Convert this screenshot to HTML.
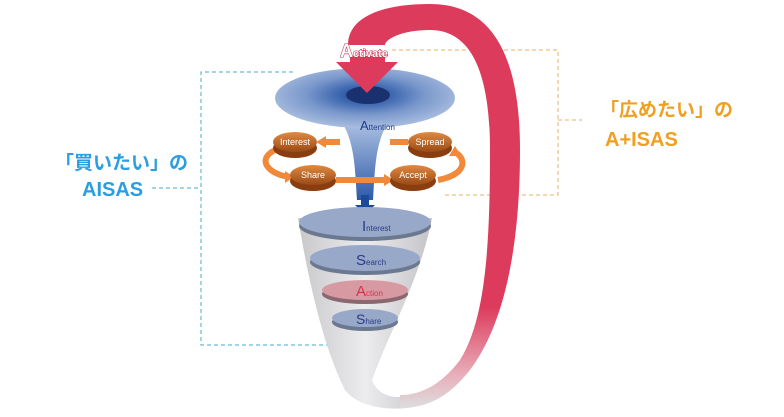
<!DOCTYPE html>
<html><head><meta charset="utf-8"><style>
body{margin:0;width:784px;height:412px;background:#fff;overflow:hidden;font-family:"Liberation Sans","Noto Sans CJK JP",sans-serif}
</style></head><body>
<svg width="784" height="412" viewBox="0 0 784 412" xmlns="http://www.w3.org/2000/svg">
<defs>
<radialGradient id="dish" cx="0.5" cy="0.45" r="0.6">
<stop offset="0" stop-color="#1c3f86"/><stop offset="0.25" stop-color="#3e68b0"/><stop offset="0.55" stop-color="#7a98cc"/><stop offset="1" stop-color="#b4c6e4"/></radialGradient>
<linearGradient id="neck" x1="0" y1="0" x2="0" y2="1"><stop offset="0" stop-color="#b0c4e4"/><stop offset="1" stop-color="#2e5aa8"/></linearGradient>
<linearGradient id="cone" x1="0" y1="0" x2="1" y2="0"><stop offset="0" stop-color="#c8c8cc"/><stop offset="0.5" stop-color="#ececee"/><stop offset="1" stop-color="#c4c4c8"/></linearGradient>
<linearGradient id="red" x1="0" y1="0" x2="0" y2="1"><stop offset="0" stop-color="#dd3b5c"/><stop offset="0.75" stop-color="#dd3b5c"/><stop offset="0.92" stop-color="#e8b0bc"/><stop offset="1" stop-color="#dddddd"/></linearGradient>
<linearGradient id="disc" x1="0" y1="0" x2="0" y2="1"><stop offset="0" stop-color="#e08a40"/><stop offset="1" stop-color="#9a4a16"/></linearGradient>
</defs>
<path d="M293 72 H201 V345 H330 M152 188 H201" fill="none" stroke="#4aa8d0" stroke-width="1" stroke-dasharray="4,3"/>
<path d="M392 50 H558 V195 H443 M558 120 H582" fill="none" stroke="#e8b060" stroke-width="1" stroke-dasharray="4,3"/>
<path d="M298 218 C310 290 325 350 345 390 C360 410 400 412 420 405 L410 395 C395 400 378 396 372 380 C390 330 420 280 432 218 Z" fill="url(#cone)"/>
<path d="M348 45 C348 18 380 4 430 4 C495 4 520 60 520 150 C520 260 500 330 470 370 C450 395 430 408 400 408 L400 395 C425 395 445 380 460 360 C485 320 490 250 490 150 C490 70 470 30 430 30 C400 30 385 40 385 45 Z" fill="url(#red)"/>
<path d="M340 120 C355 140 355 170 357 200 H373 C375 170 375 140 390 120 Z" fill="url(#neck)"/>
<ellipse cx="365" cy="98" rx="90" ry="30" fill="url(#dish)"/>
<ellipse cx="368" cy="95" rx="22" ry="9" fill="#1a3170"/>
<polygon points="350,56 385,56 385,62 398,62 367,93 336,62 350,62" fill="#dd3b5c"/>
<text x="340" y="57" font-size="11" fill="#fff" stroke="#c83050" stroke-width="1.1" paint-order="stroke" font-weight="bold"><tspan font-size="18">A</tspan>ctivate</text>
<text x="360" y="130" font-size="13" fill="#1e3a88">A<tspan font-size="8">ttention</tspan></text>
<polygon points="361,195 369,195 369,205 375,205 365,215 355,205 361,205" fill="#1a4a9a"/>
<g fill="none" stroke="#f08a3a" stroke-width="6">
<path d="M340 142 H322"/><path d="M408 142 H390"/>
<path d="M275 150 C255 160 270 175 290 177"/>
<path d="M336 180 H388"/>
<path d="M438 180 C465 175 468 160 455 152"/>
</g>
<g fill="#f08a3a"><polygon points="316,142 326,136 326,148"/><polygon points="394,180 384,174 384,186"/><polygon points="294,177 285,171 285,183"/><polygon points="455,146 449,156 461,156"/></g>
<g font-size="9" fill="#fff" text-anchor="middle">
<g><ellipse cx="295" cy="148" rx="22" ry="10" fill="#8a3e10"/><ellipse cx="295" cy="142" rx="22" ry="10" fill="url(#disc)"/><text x="295" y="145">Interest</text></g>
<g><ellipse cx="430" cy="148" rx="22" ry="10" fill="#8a3e10"/><ellipse cx="430" cy="142" rx="22" ry="10" fill="url(#disc)"/><text x="430" y="145">Spread</text></g>
<g><ellipse cx="313" cy="181" rx="23" ry="10" fill="#8a3e10"/><ellipse cx="313" cy="175" rx="23" ry="10" fill="url(#disc)"/><text x="313" y="178">Share</text></g>
<g><ellipse cx="413" cy="181" rx="23" ry="10" fill="#8a3e10"/><ellipse cx="413" cy="175" rx="23" ry="10" fill="url(#disc)"/><text x="413" y="178">Accept</text></g>
</g>
<ellipse cx="365" cy="226" rx="66" ry="15" fill="#6a7890"/><ellipse cx="365" cy="222" rx="66" ry="15" fill="#98a8c8"/>
<ellipse cx="365" cy="262" rx="55" ry="13" fill="#6a7890"/><ellipse cx="365" cy="258" rx="55" ry="13" fill="#98a8c8"/>
<ellipse cx="365" cy="294" rx="43" ry="10" fill="#8a6870"/><ellipse cx="365" cy="290" rx="43" ry="10" fill="#d89aa2"/>
<ellipse cx="365" cy="322" rx="33" ry="9" fill="#6a7890"/><ellipse cx="365" cy="318" rx="33" ry="9" fill="#98a8c8"/>
<g font-size="8" fill="#2a3a8a">
<text x="362" y="231"><tspan font-size="15">I</tspan>nterest</text>
<text x="356" y="265"><tspan font-size="15">S</tspan>earch</text>
<text x="356" y="296" fill="#d83050"><tspan font-size="15">A</tspan>ction</text>
<text x="356" y="324"><tspan font-size="14">S</tspan>hare</text>
</g>
<g font-weight="bold" font-size="19" fill="#2a9ee0">
<text x="55" y="169">「買いたい」の</text>
<text x="82" y="196" font-size="20">AISAS</text>
</g>
<g font-weight="bold" font-size="19" fill="#f0a020">
<text x="600" y="116">「広めたい」の</text>
<text x="605" y="146" font-size="20">A+ISAS</text>
</g>
</svg>
</body></html>
